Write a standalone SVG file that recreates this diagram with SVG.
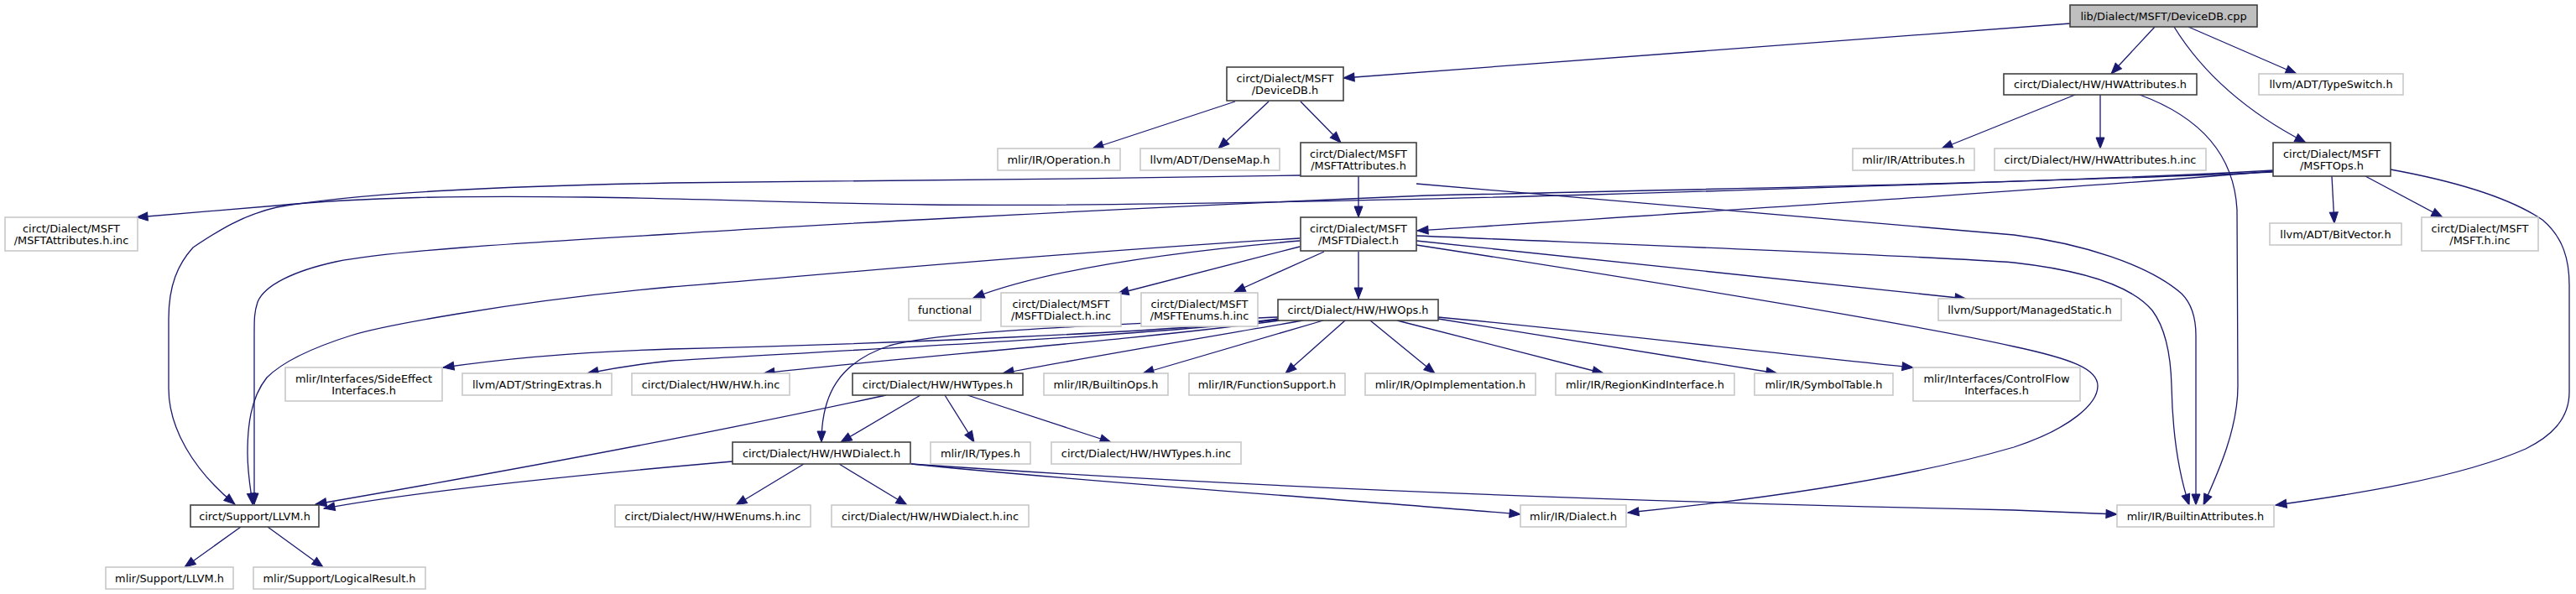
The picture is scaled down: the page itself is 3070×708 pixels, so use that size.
<svg xmlns="http://www.w3.org/2000/svg" width="3070" height="708" viewBox="0 0 3070 708">
<defs>
<marker id="arr" markerWidth="13" markerHeight="10" refX="13" refY="5" orient="auto" markerUnits="userSpaceOnUse" overflow="visible">
<path d="M0,0 L13,5 L0,10 z" fill="#191970" stroke="#191970" stroke-width="1"/>
</marker>
</defs>
<style>
.nb{fill:#ffffff;stroke:#404040;stroke-width:1.6}
.ng{fill:#ffffff;stroke:#c8c8c8;stroke-width:1.6}
.nr{fill:#bfbfbf;stroke:#404040;stroke-width:1.6}
text{font-family:"DejaVu Sans","Liberation Sans",sans-serif;font-size:12.9px;fill:#000000;text-anchor:middle}
#edges path{fill:none;stroke:#191970;stroke-width:1.3;marker-end:url(#arr)}
</style>
<rect x="0" y="0" width="3070" height="708" fill="#ffffff"/>
<g id="edges">
<path d="M2467,28 L1601,93"/>
<path d="M2568,32 L2516,88"/>
<path d="M2608,32 L2737,88"/>
<path d="M2591,32 C2630,95 2690,140 2748,170"/>
<path d="M1472,121 L1302,177"/>
<path d="M1512,121 L1452,177"/>
<path d="M1550,121 L1598,170"/>
<path d="M2473,113 L2314,177"/>
<path d="M2503,113 L2503,177"/>
<path d="M2550,113 C2610,135 2662,175 2666,250 L2667,460 C2667,510 2645,560 2626,602"/>
<path d="M1550,209 C1300,214 900,216 800,218 C600,222 434,229 330,247 C290,256 260,275 230,295 C212,315 201,340 201,380 L201,463 C201,510 230,560 280,601"/>
<path d="M1619,210 L1619,259"/>
<path d="M1688,219 C2000,246 2300,270 2400,280 C2480,290 2560,315 2600,350 C2615,365 2617,385 2617,400 L2617,602"/>
<path d="M2709,204 C2500,222 2100,248 1689,275"/>
<path d="M2709,203 C2550,212 2300,220 1900,232 C1600,240 1300,246 1106,244 C950,242 850,237 700,235 C550,233 434,235 330,245 L163,259"/>
<path d="M2709,205 C2500,215 2200,222 1700,233 C1300,250 900,272 800,279 C650,288 470,298 400,312 C350,323 315,340 307,360 C303,372 303,380 303,400 L303,601"/>
<path d="M2779,210 L2782,266"/>
<path d="M2819,210 L2911,259"/>
<path d="M2849,202 C2920,215 2990,235 3030,262 C3055,283 3062,310 3062,340 L3062,467 C3062,500 3040,520 3010,535 C2930,570 2800,590 2712,602"/>
<path d="M1549,284 C1200,305 900,335 800,342 C600,360 450,390 418,400 C380,412 340,428 318,450 C298,475 295,510 295,540 C295,565 299,585 301,601"/>
<path d="M1549,287 C1400,300 1250,320 1160,355"/>
<path d="M1549,294 L1332,350"/>
<path d="M1578,300 L1471,348"/>
<path d="M1619,300 L1619,356"/>
<path d="M1688,287 L2343,356"/>
<path d="M1688,292 C2000,340 2300,390 2400,413 C2470,428 2500,440 2500,460 C2500,480 2470,510 2400,533 C2300,562 2150,590 1940,611"/>
<path d="M1688,281 C1900,290 2300,305 2400,313 C2480,322 2540,340 2565,370 C2580,390 2587,420 2588,460 C2589,510 2595,560 2609,602"/>
<path d="M1523,380 C1400,396 1050,410 800,416 C700,419 610,426 528,438"/>
<path d="M1523,381 C1350,402 950,420 800,430 C760,434 730,439 700,445"/>
<path d="M1525,382 C1350,406 1050,428 910,445"/>
<path d="M1553,382 C1450,400 1300,425 1195,445"/>
<path d="M1577,382 L1362,445"/>
<path d="M1603,382 L1532,445"/>
<path d="M1633,382 L1710,445"/>
<path d="M1665,382 L1911,445"/>
<path d="M1714,380 L2118,445"/>
<path d="M1714,378 C1900,395 2100,420 2280,438"/>
<path d="M1523,378 C1300,388 1120,395 1060,412 C1000,432 979,470 979,527"/>
<path d="M1056,471 C900,505 700,545 376,601"/>
<path d="M1097,471 L1002,527"/>
<path d="M1126,471 L1161,527"/>
<path d="M1153,471 L1324,527"/>
<path d="M873,550 C700,565 500,585 386,606"/>
<path d="M958,553 L877,602"/>
<path d="M1000,553 L1081,602"/>
<path d="M1086,553 C1300,575 1600,595 1812,613"/>
<path d="M1086,553 C1400,575 1800,595 2400,608 L2523,613"/>
<path d="M287,628 L220,676"/>
<path d="M319,628 L385,676"/>
</g>
<g id="n0"><rect class="nr" x="2467" y="6" width="223" height="26"/><text x="2578.5" y="23.5">lib/Dialect/MSFT/DeviceDB.cpp</text></g>
<g id="n1"><rect class="nb" x="1462" y="80" width="139" height="40"/><text x="1531.5" y="97.5">circt/Dialect/MSFT</text><text x="1531.5" y="112">/DeviceDB.h</text></g>
<g id="n2"><rect class="nb" x="2388" y="88" width="230" height="25"/><text x="2503" y="105">circt/Dialect/HW/HWAttributes.h</text></g>
<g id="n3"><rect class="ng" x="2692" y="88" width="172" height="25"/><text x="2778" y="105">llvm/ADT/TypeSwitch.h</text></g>
<g id="n4"><rect class="ng" x="1189" y="177" width="146" height="26"/><text x="1262" y="194.5">mlir/IR/Operation.h</text></g>
<g id="n5"><rect class="ng" x="1359" y="177" width="166" height="26"/><text x="1442" y="194.5">llvm/ADT/DenseMap.h</text></g>
<g id="n6"><rect class="nb" x="1550" y="170" width="138" height="40"/><text x="1619" y="187.5">circt/Dialect/MSFT</text><text x="1619" y="202">/MSFTAttributes.h</text></g>
<g id="n7"><rect class="ng" x="2208" y="177" width="145" height="26"/><text x="2280.5" y="194.5">mlir/IR/Attributes.h</text></g>
<g id="n8"><rect class="ng" x="2377" y="177" width="252" height="26"/><text x="2503" y="194.5">circt/Dialect/HW/HWAttributes.h.inc</text></g>
<g id="n9"><rect class="nb" x="2709" y="170" width="140" height="40"/><text x="2779" y="187.5">circt/Dialect/MSFT</text><text x="2779" y="202">/MSFTOps.h</text></g>
<g id="n10"><rect class="ng" x="6" y="259" width="158" height="40"/><text x="85" y="276.5">circt/Dialect/MSFT</text><text x="85" y="291">/MSFTAttributes.h.inc</text></g>
<g id="n11"><rect class="nb" x="1550" y="259" width="138" height="40"/><text x="1619" y="276.5">circt/Dialect/MSFT</text><text x="1619" y="291">/MSFTDialect.h</text></g>
<g id="n12"><rect class="ng" x="2705" y="266" width="157" height="26"/><text x="2783.5" y="283.5">llvm/ADT/BitVector.h</text></g>
<g id="n13"><rect class="ng" x="2886" y="259" width="139" height="40"/><text x="2955.5" y="276.5">circt/Dialect/MSFT</text><text x="2955.5" y="291">/MSFT.h.inc</text></g>
<g id="n14"><rect class="ng" x="1083" y="356" width="86" height="26"/><text x="1126" y="373.5">functional</text></g>
<g id="n15"><rect class="ng" x="1193" y="349" width="143" height="40"/><text x="1264.5" y="366.5">circt/Dialect/MSFT</text><text x="1264.5" y="381">/MSFTDialect.h.inc</text></g>
<g id="n16"><rect class="ng" x="1360" y="349" width="139" height="40"/><text x="1429.5" y="366.5">circt/Dialect/MSFT</text><text x="1429.5" y="381">/MSFTEnums.h.inc</text></g>
<g id="n17"><rect class="nb" x="1523" y="357" width="191" height="25"/><text x="1618.5" y="374">circt/Dialect/HW/HWOps.h</text></g>
<g id="n18"><rect class="ng" x="2310" y="356" width="218" height="26"/><text x="2419" y="373.5">llvm/Support/ManagedStatic.h</text></g>
<g id="n19"><rect class="ng" x="340" y="438" width="187" height="40"/><text x="433.5" y="455.5">mlir/Interfaces/SideEffect</text><text x="433.5" y="470">Interfaces.h</text></g>
<g id="n20"><rect class="ng" x="551" y="445" width="178" height="26"/><text x="640" y="462.5">llvm/ADT/StringExtras.h</text></g>
<g id="n21"><rect class="ng" x="753" y="445" width="188" height="26"/><text x="847" y="462.5">circt/Dialect/HW/HW.h.inc</text></g>
<g id="n22"><rect class="nb" x="1016" y="445" width="203" height="26"/><text x="1117.5" y="462.5">circt/Dialect/HW/HWTypes.h</text></g>
<g id="n23"><rect class="ng" x="1244" y="445" width="148" height="26"/><text x="1318" y="462.5">mlir/IR/BuiltinOps.h</text></g>
<g id="n24"><rect class="ng" x="1417" y="445" width="186" height="26"/><text x="1510" y="462.5">mlir/IR/FunctionSupport.h</text></g>
<g id="n25"><rect class="ng" x="1627" y="445" width="203" height="26"/><text x="1728.5" y="462.5">mlir/IR/OpImplementation.h</text></g>
<g id="n26"><rect class="ng" x="1854" y="445" width="213" height="26"/><text x="1960.5" y="462.5">mlir/IR/RegionKindInterface.h</text></g>
<g id="n27"><rect class="ng" x="2091" y="445" width="165" height="26"/><text x="2173.5" y="462.5">mlir/IR/SymbolTable.h</text></g>
<g id="n28"><rect class="ng" x="2280" y="438" width="199" height="40"/><text x="2379.5" y="455.5">mlir/Interfaces/ControlFlow</text><text x="2379.5" y="470">Interfaces.h</text></g>
<g id="n29"><rect class="nb" x="873" y="527" width="212" height="26"/><text x="979" y="544.5">circt/Dialect/HW/HWDialect.h</text></g>
<g id="n30"><rect class="ng" x="1109" y="527" width="119" height="26"/><text x="1168.5" y="544.5">mlir/IR/Types.h</text></g>
<g id="n31"><rect class="ng" x="1253" y="527" width="226" height="26"/><text x="1366" y="544.5">circt/Dialect/HW/HWTypes.h.inc</text></g>
<g id="n32"><rect class="nb" x="227" y="602" width="153" height="26"/><text x="303.5" y="619.5">circt/Support/LLVM.h</text></g>
<g id="n33"><rect class="ng" x="733" y="602" width="233" height="26"/><text x="849.5" y="619.5">circt/Dialect/HW/HWEnums.h.inc</text></g>
<g id="n34"><rect class="ng" x="991" y="602" width="235" height="26"/><text x="1108.5" y="619.5">circt/Dialect/HW/HWDialect.h.inc</text></g>
<g id="n35"><rect class="ng" x="1812" y="602" width="126" height="26"/><text x="1875" y="619.5">mlir/IR/Dialect.h</text></g>
<g id="n36"><rect class="ng" x="2523" y="602" width="187" height="26"/><text x="2616.5" y="619.5">mlir/IR/BuiltinAttributes.h</text></g>
<g id="n37"><rect class="ng" x="126" y="676" width="152" height="26"/><text x="202" y="693.5">mlir/Support/LLVM.h</text></g>
<g id="n38"><rect class="ng" x="302" y="676" width="205" height="26"/><text x="404.5" y="693.5">mlir/Support/LogicalResult.h</text></g>
</svg>
